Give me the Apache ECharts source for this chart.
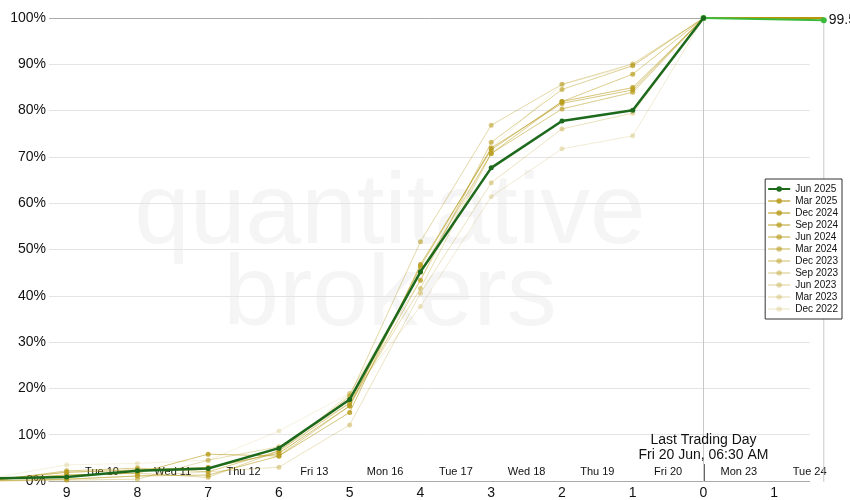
<!DOCTYPE html>
<html>
<head>
<meta charset="utf-8">
<script src="https://cdn.jsdelivr.net/npm/echarts@6/dist/echarts.min.js"></script>
<style>
html,body{margin:0;padding:0;background:#fff;}
#chart{width:850px;height:500px;}
</style>
</head>
<body>
<div id="chart"></div>
<script>
// Trading days relative to last trading day (0)
const days = [-10, -9, -8, -7, -6, -5, -4, -3, -2, -1, 0];
const seriesNames = ['Jun 2025','Mar 2025','Dec 2024','Sep 2024','Jun 2024','Mar 2024','Dec 2023','Sep 2023','Jun 2023','Mar 2023','Dec 2022'];
const jun2025 = [0.8, 1.1, 2.4, 2.9, 7.3, 17.8, 45.3, 67.7, 77.8, 80.1, 100];
const mar2025 = [0.5, 1.5, 1.9, 6.0, 5.6, 15.0, 46.9, 71.6, 82.0, 85.0, 100];
const dec2024 = [0.6, 2.1, 2.6, 3.1, 6.2, 16.4, 46.4, 72.0, 81.6, 84.5, 100];
const sep2024 = [0.4, 2.4, 3.0, 2.2, 6.7, 17.0, 45.2, 70.8, 82.0, 87.9, 100];
const jun2024 = [0.3, 0.6, 1.3, 1.5, 5.6, 16.4, 43.5, 73.2, 84.6, 89.7, 100];
const mar2024 = [0.5, 1.5, 1.9, 1.0, 6.7, 18.5, 51.8, 76.9, 85.7, 90.1, 100];
const dec2023 = [0.2, 0.4, 0.6, 4.7, 7.6, 17.0, 41.7, 70.8, 80.4, 84.0, 100];
const sep2023 = [0.3, 0.6, 1.3, 2.2, 3.2, 12.3, 40.7, 64.5, 76.1, 79.5, 100];
const jun2023 = [0.4, 2.1, 2.6, 3.1, 6.2, 19.1, 43.5, 70.8, 80.4, 84.0, 100];
const mar2023 = [0.2, 0.6, 1.3, 1.5, 5.6, 18.5, 37.8, 61.5, 71.8, 74.6, 100];
const dec2022 = [1.0, 3.7, 4.0, 4.7, 11.0, 19.1, 45.2, 72.0, 85.7, 89.7, 100];

// after last trading day
const afterDays = [0, 1.7];
const jun2025After = [100, 99.5];
const olderAfter = [100, 100];
const endLabel = '99.5%';

// tick labels
const xTickValues = [-9, -8, -7, -6, -5, -4, -3, -2, -1, 0, 1];
const xTickLabels = ['9','8','7','6','5','4','3','2','1','0','1'];
const dayPositions = [-8.5, -7.5, -6.5, -5.5, -4.5, -3.5, -2.5, -1.5, -0.5, 0.5, 1.5];
const dayLabels = ['Tue 10','Wed 11','Thu 12','Fri 13','Mon 16','Tue 17','Wed 18','Thu 19','Fri 20','Mon 23','Tue 24'];
const yTickValues = [0,10,20,30,40,50,60,70,80,90,100];
const vLineDays = [0, 1.7];
const annotation = ['Last Trading Day', 'Fri 20 Jun, 06:30 AM'];

const FONT = 'Liberation Sans, Arial, sans-serif';
const olderData = [mar2025, dec2024, sep2024, jun2024, mar2024, dec2023, sep2023, jun2023, mar2023, dec2022];
const olderAlpha = [0.85, 0.8, 0.72, 0.64, 0.56, 0.48, 0.4, 0.34, 0.27, 0.2];
const gold = [184, 156, 30];
function rgba(a){ return 'rgba(' + gold.join(',') + ',' + a + ')'; }
function pairs(xs, ys){ return xs.map((x,i)=>[x, ys[i]]); }

// pixel geometry of the x scale (shared by both grids)
const PX0 = 703.5, K = 70.76, W = 850, H = 500;
const axisMin = -9.25, axisMax = 1.5;      // visible axis extent
const dataMin = -PX0 / K, dataMax = (W - PX0) / K;  // full-width drawing grid

const onData = { xAxisIndex: 2, yAxisIndex: 1 };
const series = [];
vLineDays.forEach((d) => {
  series.push(Object.assign({
    type: 'line', name: 'v' + d, data: [[d, 0], [d, 100]], symbol: 'none',
    silent: true, lineStyle: { color: '#c8c8c8', width: 1 }, z: 1
  }, onData));
});
for (let i = olderData.length - 1; i >= 0; i--) {
  const a = olderAlpha[i];
  series.push(Object.assign({
    type: 'line', name: seriesNames[i + 1], data: pairs(days, olderData[i]),
    symbol: 'circle', symbolSize: 5, showSymbol: true,
    lineStyle: { color: rgba(a * 0.7), width: 1 },
    itemStyle: { color: rgba(a) },
    emphasis: { disabled: true }, z: 3
  }, onData));
}
series.push(Object.assign({
  type: 'line', name: 'olderAfter', data: pairs(afterDays, olderAfter),
  symbol: 'none', lineStyle: { color: '#b8960a', width: 2 }, z: 4
}, onData));
series.push(Object.assign({
  type: 'line', name: 'junAfter', data: pairs(afterDays, jun2025After), clip: false,
  symbol: 'circle', symbolSize: 6, showSymbol: true,
  lineStyle: { color: '#3cba3c', width: 2 }, itemStyle: { color: '#3cba3c' },
  label: { show: true, position: 'right', distance: 2, fontFamily: FONT, fontSize: 14, color: '#111',
    formatter: (p) => p.dataIndex === 1 ? endLabel : '' },
  z: 5
}, onData));
series.push(Object.assign({
  type: 'line', name: seriesNames[0], data: pairs(days, jun2025),
  symbol: 'circle', symbolSize: 5, showSymbol: true,
  lineStyle: { color: '#1d6a1d', width: 2.5 }, itemStyle: { color: '#1d6a1d' },
  emphasis: { disabled: true }, z: 6
}, onData));

const chart = echarts.init(document.getElementById('chart'), null, { renderer: 'canvas' });
const splitColors = yTickValues.map((v, i) => (i === yTickValues.length - 1) ? '#aaaaaa' : '#e4e4e4');
const g0Left = PX0 + axisMin * K, g0Right = W - (PX0 + axisMax * K);
chart.setOption({
  animation: false,
  backgroundColor: '#ffffff',
  textStyle: { fontFamily: FONT },
  grid: [
    { left: g0Left, right: g0Right, top: 18, bottom: 18, containLabel: false },
    { left: 0, right: 0, top: 18, bottom: 18, containLabel: false }
  ],
  legend: {
    data: seriesNames,
    orient: 'vertical', right: 8, top: 179,
    itemWidth: 22, itemHeight: 7, itemGap: 0,
    padding: [4, 4, 4, 2],
    borderColor: '#333', borderWidth: 1, backgroundColor: '#fff',
    textStyle: { fontFamily: FONT, fontSize: 10, lineHeight: 12, color: '#111' },
    selectedMode: false
  },
  xAxis: [{
    gridIndex: 0, type: 'value', min: axisMin, max: axisMax, position: 'bottom',
    axisLine: { show: true, lineStyle: { color: '#aaaaaa', width: 1 } },
    axisTick: { show: true, inside: true, length: 17, customValues: [0], lineStyle: { color: '#666', width: 2 } },
    splitLine: { show: false },
    axisLabel: {
      customValues: xTickValues, margin: 5, fontFamily: FONT, fontSize: 14, color: '#111',
      formatter: (v) => { const i = xTickValues.indexOf(Math.round(v)); return i >= 0 ? xTickLabels[i] : ''; }
    }
  }, {
    gridIndex: 0, type: 'value', min: axisMin, max: axisMax, position: 'bottom',
    axisLine: { show: false }, axisTick: { show: false }, splitLine: { show: false },
    axisLabel: {
      inside: true, customValues: dayPositions, margin: 4, fontFamily: FONT, fontSize: 11, color: '#111',
      formatter: (v) => { const i = dayPositions.findIndex(p => Math.abs(p - v) < 1e-6); return i >= 0 ? dayLabels[i] : ''; }
    }
  }, {
    gridIndex: 1, type: 'value', min: dataMin, max: dataMax, show: false
  }],
  yAxis: [{
    gridIndex: 0, type: 'value', min: 0, max: 100, interval: 10,
    axisLine: { show: false }, axisTick: { show: false },
    splitLine: { show: true, lineStyle: { color: splitColors, width: 1 } },
    axisLabel: { margin: 3, fontFamily: FONT, fontSize: 14, color: '#111', formatter: '{value}%' }
  }, {
    gridIndex: 1, type: 'value', min: 0, max: 100, show: false
  }],
  series: series
});

const x0 = chart.convertToPixel({ xAxisIndex: 2 }, 0);
chart.setOption({
  graphic: [
    { type: 'text', x: 390, y: 215, z: -10, silent: true,
      style: { text: 'quantitative', font: '100px ' + FONT, fill: '#f5f5f5', align: 'center', verticalAlign: 'middle' } },
    { type: 'text', x: 390, y: 297, z: -10, silent: true,
      style: { text: 'brokers', font: '100px ' + FONT, fill: '#f5f5f5', align: 'center', verticalAlign: 'middle' } },
    { type: 'text', x: x0, y: 448, z: 50, silent: true,
      style: { text: annotation.join('\n'), font: '14px ' + FONT, fill: '#111', align: 'center', verticalAlign: 'middle', lineHeight: 15 } }
  ]
});
</script>
</body>
</html>
